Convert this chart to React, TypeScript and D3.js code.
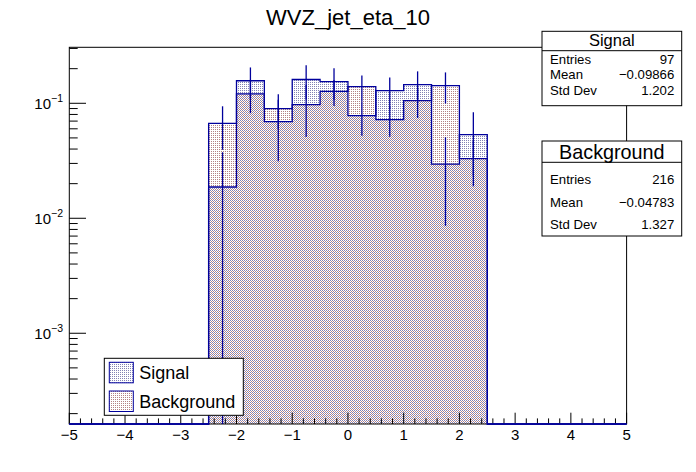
import React from 'react';
import * as d3 from 'd3';

// bin lower edges (width 0.5) of the filled bins; all other bins on [-5, 5] are empty
const binLow = [-2.5, -2, -1.5, -1, -0.5, 0, 0.5, 1, 1.5, 2];
const binWidth = 0.5;
const signal = [0.0187, 0.157, 0.0693, 0.161, 0.1544, 0.0782, 0.129, 0.1456, 0.0296, 0.0534];
const signalErr = [0.0188, 0.048, 0.038, 0.053, 0.047, 0.026, 0.039, 0.044, 0.021, 0.03];
const background = [0.0668, 0.121, 0.0899, 0.0974, 0.1272, 0.1397, 0.0722, 0.1055, 0.1426, 0.033];
const backgroundErr = [0.0274, 0.039, 0.03, 0.0465, 0.0325, 0.035, 0.021, 0.031, 0.043, 0.014];
const xTickLabels = ['\u22125', '\u22124', '\u22123', '\u22122', '\u22121', '0', '1', '2', '3', '4', '5'];
const yTickExp = ['\u22121', '\u22122', '\u22123'];
const stats = [
  { name: 'Signal', entries: '97', mean: '\u22120.09866', std: '1.202' },
  { name: 'Background', entries: '216', mean: '\u22120.04783', std: '1.327' },
];

const W = 696;
const H = 472;
const L = 69.3, R = 626.6, T = 47.3, B = 424;
const FONT = '"Liberation Sans", Arial, Helvetica, sans-serif';
const LINE = '#00009c';

const App: React.FC = () => {
  const x = d3.scaleLinear().domain([-5, 5]).range([L, R]);
  const y = d3.scaleLog().domain([1.625e-4, 0.3069]).range([B, T]);
  const yv = (v: number) => (v > 0 ? Math.max(T, Math.min(B, y(v))) : B);

  const area = d3.area<{ x: number; v: number }>()
    .x(d => x(d.x))
    .y0(B)
    .y1(d => yv(d.v))
    .curve(d3.curveStepAfter);
  const line = d3.line<{ x: number; v: number }>()
    .x(d => x(d.x))
    .y(d => yv(d.v))
    .curve(d3.curveStepAfter);

  const areaData = (vals: number[]) => [
    ...binLow.map((lo, i) => ({ x: lo, v: vals[i] })),
    { x: binLow[binLow.length - 1] + binWidth, v: vals[vals.length - 1] },
  ];
  const lineData = (vals: number[]) => [
    { x: -5, v: 0 },
    ...binLow.map((lo, i) => ({ x: lo, v: vals[i] })),
    { x: binLow[binLow.length - 1] + binWidth, v: 0 },
    { x: 5, v: 0 },
  ];

  const errBars = (vals: number[], errs: number[], key: string) =>
    binLow.map((lo, i) => {
      const cx = x(lo + binWidth / 2);
      const lo2 = vals[i] - errs[i];
      return (
        <line key={key + i} x1={cx} x2={cx} y1={yv(vals[i] + errs[i])} y2={lo2 > 0 ? yv(lo2) : B}
          stroke={LINE} strokeWidth={1.3} />
      );
    });

  const xMinor = d3.range(0, 51).map(i => -5 + i * 0.2);
  const yTicks = y.ticks();
  const isMajor = (v: number) => Math.abs(Math.log10(v) - Math.round(Math.log10(v))) < 1e-6;

  const boxL = 542, boxR = 681.7;
  const boxes = [
    { top: 31.3, bottom: 105.7, sep: 50.7, titleY: 45.8, titleSize: 16.5, rows: [63.7, 78.7, 95.3] },
    { top: 141, bottom: 236, sep: 162.3, titleY: 159.3, titleSize: 19.8, rows: [184, 206.7, 229.4] },
  ];

  return (
    <svg width={W} height={H} style={{ position: 'absolute', left: 0, top: 0, background: '#fff' }}
      fontFamily={FONT}>
      <defs>
        <pattern id="sigPat" width={2} height={2} patternUnits="userSpaceOnUse">
          <rect x={0} y={0} width={1} height={1} fill="#8282b4" />
        </pattern>
        <pattern id="bkgPat" width={2} height={2} patternUnits="userSpaceOnUse">
          <rect x={1} y={1} width={1} height={1} fill="#b48282" />
        </pattern>
      </defs>
      <rect x={0} y={0} width={W} height={H} fill="#fff" />

      <text x={W / 2} y={25} textAnchor="middle" fontSize={22}>WVZ_jet_eta_10</text>

      {/* fills */}
      <path d={area(areaData(signal)) || ''} fill="url(#sigPat)" />
      <path d={area(areaData(background)) || ''} fill="url(#bkgPat)" />

      {/* frame */}
      <rect x={L} y={T} width={R - L} height={B - T} fill="none" stroke="#000" strokeWidth={1} />

      {/* x axis ticks */}
      {xMinor.map((v, i) => {
        const major = i % 5 === 0;
        return <line key={'xt' + i} x1={x(v)} x2={x(v)} y1={B} y2={B - (major ? 11.3 : 5.6)} stroke="#000" />;
      })}
      {xTickLabels.map((t, i) => (
        <text key={'xl' + i} x={x(-5 + i)} y={440} textAnchor="middle" fontSize={15}>{t}</text>
      ))}

      {/* y axis ticks */}
      {yTicks.map((v, i) => (
        <line key={'yt' + i} x1={L} x2={L + (isMajor(v) ? 16.7 : 8.4)} y1={y(v)} y2={y(v)} stroke="#000" />
      ))}
      {yTickExp.map((e, i) => {
        const yy = y(Math.pow(10, -(i + 1)));
        return (
          <text key={'yl' + i} x={63} y={yy + 5.5} textAnchor="end" fontSize={15}>
            10<tspan dy={-7} fontSize={10.5}>{e}</tspan>
          </text>
        );
      })}

      {/* outlines and error bars */}
      <path d={line(lineData(signal)) || ''} fill="none" stroke={LINE} strokeWidth={1.3} />
      <path d={line(lineData(background)) || ''} fill="none" stroke={LINE} strokeWidth={1.3} />
      {errBars(signal, signalErr, 'se')}
      {errBars(background, backgroundErr, 'be')}

      {/* stats boxes */}
      {stats.map((s, i) => {
        const b = boxes[i];
        const rows = [['Entries', s.entries], ['Mean', s.mean], ['Std Dev', s.std]];
        return (
          <g key={'st' + i}>
            <rect x={boxL} y={b.top} width={boxR - boxL} height={b.bottom - b.top} fill="#fff" stroke="#000" />
            <line x1={boxL} x2={boxR} y1={b.sep} y2={b.sep} stroke="#000" />
            <text x={(boxL + boxR) / 2} y={b.titleY} textAnchor="middle" fontSize={b.titleSize}>{s.name}</text>
            {rows.map((r, j) => (
              <g key={j}>
                <text x={550} y={b.rows[j]} fontSize={13.2}>{r[0]}</text>
                <text x={674.3} y={b.rows[j]} textAnchor="end" fontSize={13.2}>{r[1]}</text>
              </g>
            ))}
          </g>
        );
      })}

      {/* legend */}
      <rect x={104.3} y={358.3} width={139} height={57} fill="#fff" stroke="#000" />
      {[
        { label: 'Signal', pat: 'sigPat', y0: 362.3 },
        { label: 'Background', pat: 'bkgPat', y0: 391 },
      ].map(e => (
        <g key={e.label}>
          <rect x={109.3} y={e.y0} width={24} height={20.5} fill={`url(#${e.pat})`} stroke={LINE} />
          <text x={139.3} y={e.y0 + 16.7} fontSize={18}>{e.label}</text>
        </g>
      ))}
    </svg>
  );
};

export default App;
